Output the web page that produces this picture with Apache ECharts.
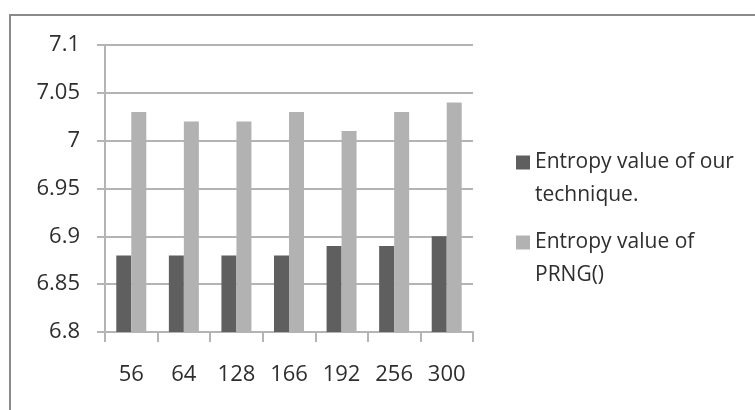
<!DOCTYPE html>
<html>
<head>
<meta charset="utf-8">
<script src="https://cdn.jsdelivr.net/npm/echarts@6/dist/echarts.min.js"></script>
<style>
  html, body { margin: 0; padding: 0; background: #fff; }
  #chart { width: 755px; height: 410px; }
</style>
</head>
<body>
<div id="chart"></div>
<script>
// Block sizes on the x axis
const categories = ['56', '64', '128', '166', '192', '256', '300'];
// Entropy measured for each block size
const ourTechnique = [6.88, 6.88, 6.88, 6.88, 6.89, 6.89, 6.90];
const prng = [7.03, 7.02, 7.02, 7.03, 7.01, 7.03, 7.04];
const seriesNames = ['Entropy value of our technique.', 'Entropy value of PRNG()'];
// Legend text split over two lines; a leading blank line keeps the
// swatch level with the first line of text.
const legendLines = {
  [seriesNames[0]]: ['Entropy value of our', 'technique.'],
  [seriesNames[1]]: ['Entropy value of', 'PRNG()']
};

const FONT = '"Open Sans", "Liberation Sans", sans-serif';
const TEXT = '#2e2e2e';
const GRID = '#b4b4b4';

const chart = echarts.init(document.getElementById('chart'), null, { renderer: 'canvas' });

function legendFor(name, top) {
  return {
    data: [name],
    orient: 'vertical',
    left: 511,
    top: top,
    itemWidth: 14,
    itemHeight: 14,
    itemGap: 0,
    icon: 'rect',
    selectedMode: false,
    formatter: n => '\n' + legendLines[n].join('\n'),
    textStyle: {
      fontFamily: FONT,
      fontSize: 21,
      color: TEXT,
      lineHeight: 33
    }
  };
}

chart.setOption({
  animation: false,
  backgroundColor: '#fff',
  graphic: [{
    type: 'polyline',
    shape: { points: [[10, 420], [10, 15], [760, 15]] },
    style: { stroke: '#8a8a8a', lineWidth: 2, fill: null }
  }],
  legend: [legendFor(seriesNames[0], 108), legendFor(seriesNames[1], 188)],
  grid: { left: 105, right: 282, top: 45, bottom: 78, containLabel: false },
  xAxis: {
    type: 'category',
    data: categories,
    axisLine: { lineStyle: { color: GRID, width: 2 } },
    axisTick: { show: true, length: 10, lineStyle: { color: GRID, width: 2 } },
    axisLabel: { margin: 32, fontFamily: FONT, fontSize: 22, color: TEXT },
    splitLine: { show: false }
  },
  yAxis: {
    type: 'value',
    min: 6.8,
    max: 7.1,
    interval: 0.05,
    axisLine: { show: true, lineStyle: { color: GRID, width: 2 } },
    axisTick: { show: true, length: 8, lineStyle: { color: GRID, width: 2 } },
    axisLabel: {
      margin: 25, fontFamily: FONT, fontSize: 22, color: TEXT,
      formatter: v => String(parseFloat(v.toFixed(2)))
    },
    splitLine: { show: true, lineStyle: { color: GRID, width: 2 } }
  },
  series: [
    {
      name: seriesNames[0],
      type: 'bar',
      data: ourTechnique,
      barWidth: 15,
      barGap: '0%',
      itemStyle: { color: '#5f5f5f' }
    },
    {
      name: seriesNames[1],
      type: 'bar',
      data: prng,
      barWidth: 15,
      itemStyle: { color: '#b2b2b2' }
    }
  ]
});
</script>
</body>
</html>
